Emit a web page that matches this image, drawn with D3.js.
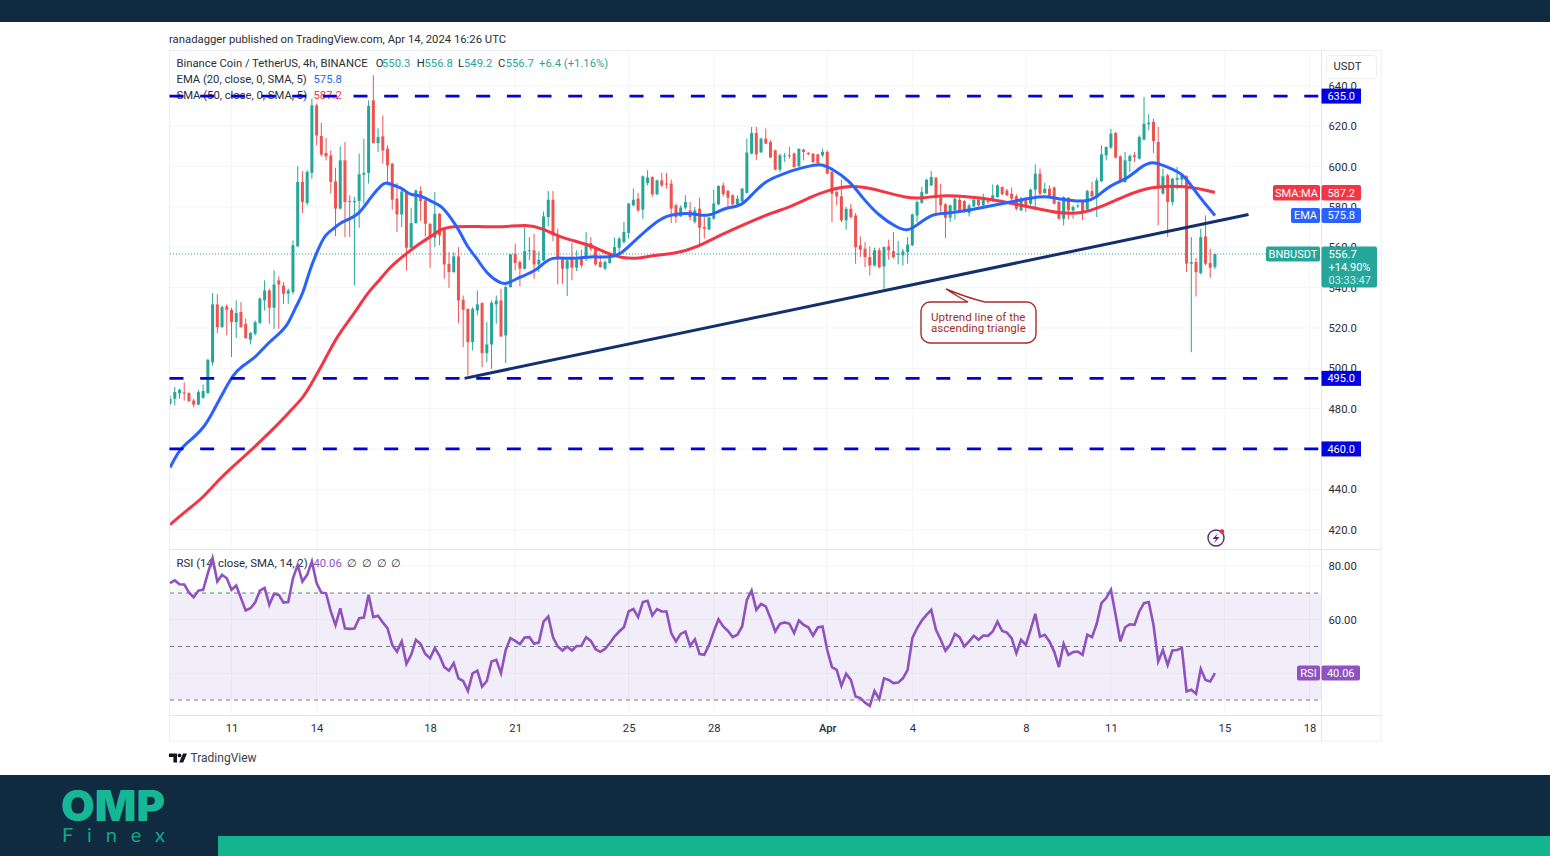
<!DOCTYPE html>
<html>
<head>
<meta charset="utf-8">
<title>BNBUSDT 4h</title>
<script src="https://cdn.jsdelivr.net/npm/d3@7"></script>
<style>
    html, body { margin: 0; padding: 0; background: #fff; }
    svg { display: block; }
    text { font-family: Roboto, "Noto Sans", sans-serif; }
</style>
</head>
<body>
<svg id="chart" width="1550" height="856"></svg>
<script>
// candles, 4h bars from Mar 8 20:00 to Apr 14 16:00
let opens = [
    482.4,484.9,487.7,488,487.7,484,482,485.4,487.7,503,
    531.7,520.4,530.7,529,522.9,527.9,522,514.2,517.1,522.4,
    533.7,538.6,530,543.6,541,537,537.8,560.5,592.4,582,
    596.9,630.4,615.2,606.8,605.6,592.7,579.2,603.1,583,582.5,
    583,596,596.9,632.9,611.7,615,608.9,601.5,584.1,576.3,
    587.4,559.8,572,587.9,583.3,571.7,564.7,576.6,569.2,551.8,
    547.7,555.5,534,529.5,513,528.7,532.3,507.5,511.8,531.7,
    533.6,516.3,540.3,556.8,552.7,549.4,558,558.5,551.5,553.5,
    575,583.6,565.9,553.8,549.4,554.3,549.9,554.3,554.8,562.1,
    559.3,552.7,549.4,552.2,556,559.8,562.6,567.1,580.8,584.1,
    578.7,591.9,594.9,586.3,593.2,591.6,591.6,580.8,575.4,579.7,
    578.3,572.6,579.2,570,568.9,574.2,581.3,590.7,587.9,585.8,
    581.3,582.8,587,606.5,616.7,607.1,613.9,612.2,608.1,598.5,
    605.2,605.6,606.5,600.2,608.4,606.8,606.4,606.1,605.6,607.3,
    597.3,587.4,585.3,573.4,579.1,575.8,561,559.3,555.2,551,
    558.5,550.5,560.4,558.1,556.3,556,557.6,561,575.8,582.1,
    586.6,590.7,594.5,584.6,581.3,574.7,578.3,583.6,583,577,
    580.3,583.6,580.8,583,583,584.9,589.9,588.2,586.6,585.3,
    578.3,583.3,581.6,588.6,596.5,586.9,589.1,589.6,582.5,574.2,
    584.6,578.3,580.4,582.5,578.7,587.9,584.6,592.9,605.6,609.4,
    616.7,605.1,592.4,602.8,605.6,604,613.4,621,622.2,612.2,
    586.6,595.7,582.5,593.5,593.5,595.2,551.9,552.7,547.2,565.4,
    552.2,550.3];
let highs = [
    486.5,490.7,489.8,493,488.2,484.9,489.3,492,504.7,537.3,
    536.7,531.2,531.7,530,533.7,532.8,524.6,518,523.7,535.3,
    543.6,539.5,548.6,545.6,542.8,539.5,563.4,600.2,597.8,598.2,
    633.7,631.3,621.7,614.2,608.1,599.5,610.1,612.2,585.8,585,
    606.4,613.9,632.9,645.3,618.9,625.4,610.6,601.8,591.9,589,
    587.7,579.6,588.6,590.2,584.1,571.7,587.4,577,570,557.6,
    557.6,560.1,536.1,529.5,530.3,538.6,532.8,522.9,533.6,536.1,
    539.4,541.1,556.8,561.8,553.5,570.9,565,566.7,558.1,577.8,
    587.9,587.9,569.2,554.3,554.3,562.1,558.5,558.8,567.6,565.1,
    559.3,556,553.5,556.8,564.8,565.1,572.6,582,589.1,586.9,
    595.7,598.2,595.2,593.6,596.9,596.9,593.6,581.7,580.8,585.8,
    582.5,580,584.6,575,575,588.6,590.7,592.1,588.6,586.3,
    585.8,589.4,613.9,619.7,619.7,614.4,618.9,613.1,608.4,606.5,
    606.8,609.8,607,608.9,608.9,607.3,606.8,606.4,608.9,608.1,
    599,588.2,593.5,580,581.6,577,565.4,562.6,560.4,559.8,
    559.8,560.4,563.8,567.6,563.1,559.3,565.1,576.7,583.3,589.9,
    594,597.8,594.9,591.5,582,581.3,584.9,584.9,583.3,581.6,
    584.1,584.1,586.6,584,591.2,591.2,590.2,589,589.6,586.3,
    585,584.1,589.1,601.1,599,591.9,590.7,590.2,583,585.3,
    584.9,580.8,581.6,582.5,588.6,592.4,594.5,610.6,610.1,618.8,
    617.2,605.6,607.3,606.1,607.3,615.5,634.6,626,623.8,619.7,
    599,596.5,594.5,599.8,596.5,595.7,565.1,554.7,569.2,575.8,
    559.3,556.8];
let lows = [
    481.6,481.6,484.9,484,483.2,480.7,481.6,484.9,487.4,501.4,
    517.5,520.1,516.3,505.6,515.1,520.1,514.7,511.8,516.3,522.1,
    528.7,522.1,519.6,519.6,532,532,536.7,560.1,577,580.8,
    594,610.6,605,603.1,586.6,565.6,578.7,565.1,565.1,541.1,
    569.7,581.6,591.6,611.4,607.3,601.5,590.7,578.6,567.6,570,
    548.5,559.3,571.7,573,565.4,549.9,560.1,561,544.4,539.9,
    547.4,522.4,510.5,496.4,508.8,526.2,500.6,503,499.7,522.1,
    515.5,502.6,540,548.5,540.6,548.9,553.5,544.4,547.7,553.2,
    570.4,563.1,541.6,541.9,535.8,543.6,548.2,549.9,553.2,558.2,
    550.9,549.9,548.6,551.9,555.2,556,561.8,564.3,580.3,577.5,
    574.2,590.7,585,585.8,589.9,589.1,572.1,572.1,575,578.7,
    573.4,571.7,561,564.3,568.4,573.7,580.8,585.3,580.3,580.8,
    580.3,582.5,586.6,606.1,603.2,606.8,611.1,604.5,598.2,597.4,
    602.3,604,599.5,599.8,603.1,605.6,601.8,601.5,604.8,596.2,
    572.5,580.8,572.5,568.7,574.2,551.9,555.2,550.2,546,550.5,
    549.4,539.4,553.8,554.3,551.5,551,551.9,560.6,572.5,581.6,
    586.3,590.4,576.7,576.7,564.6,572.5,573.7,578,577,575.3,
    580,580.3,580.3,581.5,582.5,584.6,585.8,585.3,583.3,578.3,
    578,577.5,580.8,578.3,585.8,586.6,585,581.3,573.7,570.9,
    573.7,574.2,579.6,573.4,578.3,584.6,575,592.4,603.1,608.9,
    604,591.9,591.9,597.3,602.3,603.5,613.1,618,606.8,570.9,
    586.3,565.1,580.8,588.6,589.6,547.7,508,535.6,546.6,551,
    544.9,549.2];
let closes = [
    484.9,488.2,489.3,487.5,483.7,482,488.2,488.7,504.2,531.7,
    520.4,530.4,529,522.9,527.4,520.4,515,517.5,522.9,534.5,
    538.6,530,541.6,541.6,537,538.6,561,592.4,582.5,597.4,
    630.4,615.5,606,605.1,592.4,579.2,603.1,582.5,582.5,583,
    596.2,596.9,630.1,611.7,614.7,608,600.6,583.6,576.3,587.7,
    559.8,572,588.2,582.9,571.7,564.7,576.6,565.9,551.5,547.7,
    555.5,533.6,529,513,529.5,531.7,507.5,511.8,532.5,533.6,
    515.8,540.3,556.5,552.2,549.4,558.1,558.5,551.5,553.8,575.3,
    583.6,565.9,554.3,549.4,553.5,549.9,553.8,551,562.1,559.3,
    551.5,550.2,552.7,556,560.1,564.3,567.6,581.7,583.6,578.3,
    595.2,594.6,586.3,593.2,590.7,591.1,579.2,575,579.7,582.5,
    575,578.3,569.7,569.2,574.7,581.7,590.4,586.3,584.6,581.3,
    584.1,589.1,607,616.7,606.1,613.9,611.4,604.5,598.5,605.6,
    605.5,605.1,599.8,608.9,607.3,606.2,602.3,601.8,607.3,596.5,
    586.6,585.3,573.4,579.1,575,560.1,558.8,555.2,551,558.5,
    550.2,560.1,558.5,555.2,556.8,558,561.4,576.3,582.5,587.4,
    593.5,594.9,584.6,580.8,574.7,580.8,584.1,578.3,578,580.8,
    583.6,580.8,584.9,582.5,585.8,590.7,586.3,585.8,584.1,579.1,
    584.1,580.8,588.6,596.5,586.6,589.1,585.3,581.6,574.2,584.9,
    578.3,580,580.7,577.5,587.9,585.3,593.2,606.1,609.7,616.4,
    604.5,592.4,603.1,605.3,604.8,614.7,621.3,621.8,612.7,589.9,
    595.2,582.5,594,594.4,595.7,551.9,552.7,547.7,565.1,551.9,
    549.9,556.7];

// moving averages, read at bar positions
let emaBars = [0,2,4,7.3,9.4,11.5,13.2,15.3,17.9,20.2,22.7,24.9,26.5,28,29.5,31.2,32.9,34.8,36,40,42.2,45,45.8,47.9,49.2,50.7,53.2,55.5,57.4,59.5,61.2,62.9,64.8,66.9,70.1,71.4,73.9,77.5,79.2,80.7,83.9,86.6,88.7,92.3,95,97.2,101.4,104.6,108.4,110.5,113.7,115.6,117.7,120.9,123.2,126.2,128.9,131.7,134.2,137.4,139.5,143.7,146.5,150.1,153.7,156,157.9,161.3,164.2,169,173.9,177.6,182.4,186,188.1,193.8,196,198.7,202.3,205,207.6,210.8,214.1,217.1,221];
let emaValues = [450.8,459.7,463.7,470.6,480,489,496.4,501.4,504.9,511.3,516.3,521.2,530.2,536.1,548.5,558.5,566.9,569.4,572.4,575.8,584.3,591.7,592.2,590.2,589.2,585.8,585.8,582.3,580.8,574.3,568.4,559.9,555,547,541.6,542.1,545.1,548.5,552.5,555,554.5,554.5,555.5,555,555.9,560.9,569.9,575.8,576.8,576.8,575.3,577.3,579.8,580.3,586.7,593.2,595.7,598.2,599.7,601.6,599.7,593.2,584.3,575.3,569.9,567.9,570.9,576.8,576.8,578.3,580.8,582.3,584.8,585.3,583.8,582.3,584.8,590.7,593.7,599.2,603.1,599.7,597.2,586.7,575.8];
let smaBars = [0,4,7,10.5,14.7,18.9,23.2,25.5,28,29.7,32.7,35.4,39,41.8,44.3,46.4,50,52.8,55.5,57.6,59.7,65.5,70.3,75.4,78.8,82.4,88.7,92.3,95.7,99.3,102,107.1,111.4,116.2,121.9,127.4,131,135.3,139.5,144.3,148.6,155.8,159.2,162.8,168.5,174,179,183.3,188.1,193,196.6,202.3,207.2,215,221];
let smaValues = [422.5,430.4,435.9,445.3,454.2,463.2,473.1,479.1,485,491.5,503.9,516.3,527.2,537.6,543.6,550,557,561.9,565.9,569.4,570.4,570.4,569.9,571.4,569.4,564.9,561.4,557,554.5,554.5,556,557,560,565.9,571.9,577.3,579.8,584.8,588.7,590.7,589.2,584.3,584.3,585.8,585.3,583.8,581.3,579.3,576.8,576.8,579.8,585.8,590.2,590.7,587.2];

// RSI, one value per bar
let rsiValues = [
    73.7,74.7,73.3,73.2,70.2,68.4,70.9,71.2,77.4,83,
    74.3,76.8,75.5,71.2,72.8,68.1,63.5,64.3,66.4,70.9,
    71.9,65.6,69.7,69.3,66.4,66.6,75.5,80.5,74.3,76.8,
    81.8,73.7,70.2,69.9,63.1,58,64.3,56.8,56.6,56.7,
    60.6,60.8,69.3,61,61.5,59,56.8,50.6,48.1,51.9,
    43.5,46.9,52.5,50.9,47.2,45.6,49.4,46.5,42.3,41,
    43.8,38.1,37.1,33.4,40,41,35,37.1,44.4,45,
    40,48.7,53.1,52.1,50.9,53.4,53.5,51,51.5,59.3,
    61.2,53.4,50,48.5,49.9,48.5,50.2,50.2,53.5,52.1,
    49,48,49.1,51.2,53.7,55.6,57.2,63.1,64,61,
    66.6,67.1,61.6,64,63.1,63.1,55,51.9,54.7,55.6,
    50.2,52.7,47.2,46.9,50.6,55.6,60.2,57.5,55.8,53.5,
    54.4,57.5,67.4,70.9,63.7,65.9,65,60.6,55.6,58.5,
    59,58.5,55,59.7,58.1,57.2,54.1,57.1,57.5,48.7,
    42.3,41.3,35.3,39.8,37.5,31.3,30.7,29,27.8,33.4,
    30.4,38.1,37.5,36.3,36.5,38.1,41.3,53.1,56.8,59.7,
    61.8,63.7,56.2,52.5,48.4,50.6,54.7,53.5,50,51.9,
    54,52.5,54.1,54,55.6,59.3,55.8,55.2,53.1,47.5,
    52.5,50.6,56.2,62.2,53.7,54.4,51.9,48.1,42.3,51,
    46.9,47.9,48.1,46.9,54.4,53.5,58.5,66.2,68.1,71.2,
    61.8,51.9,57.2,58.3,58.1,63.1,66.2,66.6,58.1,44.4,
    48.7,43.1,48.5,48.7,49.4,33.2,33.8,32.3,41.6,37.5,
    36.9,40.06];

// axes
let priceTicks = [640,620,600,580,560,540,520,500,480,460,440,420];
let rsiTicks = [80,60,40];
let rsiGuides = [70,50,30];
let dateTicks = [[2,11],[2,14],[2,18],[2,21],[2,25],[2,28],[3,1],[3,4],[3,8],[3,11],[3,15],[3,18]];
let dateLabels = ["11","14","18","21","25","28","Apr","4","8","11","15","18"];

// drawn levels
let levels = [635,495,460];
let trendBars = [62.3,228.1];
let trendPrices = [495,576.3];

let lastPrice = 556.7, lastEma = 575.8, lastSma = 587.2, lastRsi = 40.06;

const GREEN = "#26a69a", RED = "#ef5350", BLUE = "#2962ff", SMA_RED = "#f23645";
const PURPLE = "#8f52bf", LEVEL = "#0000e0", NAVY = "#12306e", INK = "#2a2e39";
const DARK = "#102b40", TEAL = "#12b58e";

let svg = d3.select("#chart");

// pane layout
let left = 170, right = 1321, priceTop = 51, priceBottom = 549, rsiTop = 550, rsiBottom = 715, axisBottom = 741, frameRight = 1381;

let xTime = d3.scaleUtc()
    .domain([Date.UTC(2024, 2, 11), Date.UTC(2024, 3, 18)])
    .range([231.5, 1309.5]);
let firstBar = Date.UTC(2024, 2, 8, 20);
function xBar(i) { return xTime(firstBar + i * 4 * 3600 * 1000); }

let yPrice = d3.scaleLinear().domain([420, 640]).range([529.6, 86]);
let yRsi = d3.scaleLinear().domain([30, 70]).range([700, 593]);

function label(parent, x, y, str, color, size, anchor) {
    return parent.append("text")
        .attr("x", x)
        .attr("y", y)
        .attr("dy", "0.35em")
        .attr("fill", color)
        .attr("font-size", size || 11.25)
        .attr("text-anchor", anchor || "start")
        .text(str);
}

function drawPage() {
    svg.append("rect").attr("width", 1550).attr("height", 22).attr("fill", DARK);
    svg.append("rect").attr("y", 775).attr("width", 1550).attr("height", 81).attr("fill", DARK);
    svg.append("rect").attr("x", 218).attr("y", 836).attr("width", 1332).attr("height", 20).attr("fill", TEAL);

    svg.append("text").attr("x", 61).attr("y", 821)
        .attr("fill", "#16b795").attr("font-size", 42).attr("font-weight", 900)
        .attr("style", "font-family:Inter, Lato, sans-serif")
        .attr("textLength", 104).attr("lengthAdjust", "spacingAndGlyphs")
        .text("OMP");
    svg.append("text").attr("x", 62).attr("y", 842)
        .attr("fill", "#14a589").attr("font-size", 20).attr("font-weight", 400)
        .attr("style", "font-family:Lato, sans-serif")
        .attr("textLength", 103)
        .text("Finex");

    label(svg, 169, 39, "ranadagger published on TradingView.com, Apr 14, 2024 16:26 UTC", INK, 11.3);

    // TradingView mark, bottom left
    let logo = svg.append("g").attr("fill", "#131722");
    logo.append("path").attr("d", "M169 753.5h8v9h-3.6v-5.6h-4.4z");
    logo.append("circle").attr("cx", 179.5).attr("cy", 755.4).attr("r", 1.9);
    logo.append("path").attr("d", "M183 753.5h4l-3.8 9h-4z");
    label(svg, 190.5, 758, "TradingView", "#3a3e4a", 12);
}

function drawFrame() {
    let g = svg.append("g");
    g.append("rect").attr("x", 169.5).attr("y", 50.5)
        .attr("width", frameRight - 169.5).attr("height", axisBottom - 50.5)
        .attr("fill", "#fff").attr("stroke", "#eceef2");

    // grid lines
    let grid = "#f4f5f8";
    g.selectAll("line.gx").data(dateTicks).enter().append("line")
        .attr("x1", d => xTime(Date.UTC(2024, d[0], d[1])))
        .attr("x2", d => xTime(Date.UTC(2024, d[0], d[1])))
        .attr("y1", priceTop).attr("y2", rsiBottom)
        .attr("stroke", grid);
    g.selectAll("line.gy").data(priceTicks).enter().append("line")
        .attr("x1", left).attr("x2", right)
        .attr("y1", d => yPrice(d)).attr("y2", d => yPrice(d))
        .attr("stroke", grid);
    g.selectAll("line.gr").data(rsiTicks).enter().append("line")
        .attr("x1", left).attr("x2", right)
        .attr("y1", d => yRsi(d)).attr("y2", d => yRsi(d))
        .attr("stroke", grid);

    // pane separators
    g.append("line").attr("x1", left).attr("x2", frameRight).attr("y1", 549.5).attr("y2", 549.5).attr("stroke", "#e3e5ea");
    g.append("line").attr("x1", left).attr("x2", frameRight).attr("y1", 715.5).attr("y2", 715.5).attr("stroke", "#e3e5ea");
    g.append("line").attr("x1", right + 0.5).attr("x2", right + 0.5).attr("y1", 50).attr("y2", axisBottom).attr("stroke", "#e3e5ea");

    // USDT button
    g.append("rect").attr("x", 1326.5).attr("y", 55.5).attr("width", 50).attr("height", 23).attr("rx", 3)
        .attr("fill", "#fff").attr("stroke", "#eceef2");
    label(g, 1333.5, 66.5, "USDT", INK, 11.25);
}

function drawAxes() {
    let priceAxis = d3.axisRight(yPrice)
        .tickValues(priceTicks)
        .tickFormat(d3.format(".1f"))
        .tickSize(0)
        .tickPadding(0);
    let rsiAxis = d3.axisRight(yRsi)
        .tickValues(rsiTicks)
        .tickFormat(d3.format(".2f"))
        .tickSize(0)
        .tickPadding(0);
    let dateAxis = d3.axisBottom(xTime)
        .tickValues(dateTicks.map(d => new Date(Date.UTC(2024, d[0], d[1]))))
        .tickFormat((d, i) => dateLabels[i])
        .tickSize(0)
        .tickPadding(0);

    let gp = svg.append("g").attr("transform", "translate(1328.5,0)").call(priceAxis);
    let gr = svg.append("g").attr("transform", "translate(1328.5,0)").call(rsiAxis);
    let gd = svg.append("g").attr("transform", "translate(0,724)").call(dateAxis);

    [gp, gr, gd].forEach(g => {
        g.select(".domain").remove();
        g.selectAll("text").attr("fill", INK).attr("font-size", 11.25)
            .style("font-family", "Roboto, 'Noto Sans', sans-serif");
    });
    gd.selectAll("text").filter((d, i) => dateLabels[i] == "Apr").attr("font-weight", 500);
}

function drawLegend() {
    let g = svg.append("g");
    label(g, 176.5, 63.5, "Binance Coin / TetherUS, 4h, BINANCE", INK);
    let parts = [["O", INK, 375.7], ["550.3", GREEN, 382], ["H", INK, 416.7], ["556.8", GREEN, 424.5],
        ["L", INK, 458], ["549.2", GREEN, 464], ["C", INK, 498], ["556.7", GREEN, 505.7], ["+6.4 (+1.16%)", GREEN, 539]];
    parts.forEach(p => label(g, p[2], 63.5, p[0], p[1]));

    label(g, 176.5, 79.5, "EMA (20, close, 0, SMA, 5)", INK);
    label(g, 313.5, 79.5, "575.8", BLUE);
    label(g, 176.5, 95.5, "SMA (50, close, 0, SMA, 5)", INK);
    label(g, 313.5, 95.5, "587.2", SMA_RED);

    label(g, 176.5, 563.5, "RSI (14, close, SMA, 14, 2)", INK, 11.4);
    label(g, 313.5, 563.5, "40.06", PURPLE);
    [347, 362, 377, 391].forEach(x => label(g, x, 563.5, "∅", INK));
}

function drawCandles() {
    let plot = svg.append("g").attr("clip-path", "url(#priceClip)");

    // last price dotted line sits behind the candles
    plot.append("line")
        .attr("x1", left).attr("x2", 1266)
        .attr("y1", yPrice(lastPrice)).attr("y2", yPrice(lastPrice))
        .attr("stroke", GREEN).attr("stroke-dasharray", "1 2");

    let idx = d3.range(opens.length);
    plot.selectAll("line.wick").data(idx).enter().append("line")
        .attr("x1", i => xBar(i)).attr("x2", i => xBar(i))
        .attr("y1", i => yPrice(highs[i])).attr("y2", i => yPrice(lows[i]))
        .attr("stroke", i => closes[i] >= opens[i] ? GREEN : RED)
        .attr("stroke-width", 1);
    plot.selectAll("rect.body").data(idx).enter().append("rect")
        .attr("x", i => xBar(i) - 1.5)
        .attr("width", 3)
        .attr("y", i => yPrice(Math.max(opens[i], closes[i])))
        .attr("height", i => Math.max(1, Math.abs(yPrice(opens[i]) - yPrice(closes[i]))))
        .attr("fill", i => closes[i] >= opens[i] ? GREEN : RED);

    let line = d3.line().curve(d3.curveBasis);
    plot.append("path")
        .attr("d", line(smaBars.map((b, i) => [xBar(b), yPrice(smaValues[i])])))
        .attr("fill", "none").attr("stroke", SMA_RED).attr("stroke-width", 3);
    plot.append("path")
        .attr("d", line(emaBars.map((b, i) => [xBar(b), yPrice(emaValues[i])])))
        .attr("fill", "none").attr("stroke", BLUE).attr("stroke-width", 3);
}

function drawAnnotations() {
    // horizontal levels
    svg.selectAll("line.level").data(levels).enter().append("line")
        .attr("x1", left - 0.5).attr("x2", right)
        .attr("y1", d => yPrice(d)).attr("y2", d => yPrice(d))
        .attr("stroke", LEVEL).attr("stroke-width", 2.8)
        .attr("stroke-dasharray", "14 16.67");

    // uptrend line
    svg.append("line")
        .attr("x1", xBar(trendBars[0])).attr("y1", yPrice(trendPrices[0]))
        .attr("x2", xBar(trendBars[1])).attr("y2", yPrice(trendPrices[1]))
        .attr("stroke", NAVY).attr("stroke-width", 3);

    // callout under the trend line
    let c = "#a62c2c";
    svg.append("path")
        .attr("d", "M932 302H968Q955 295 946 289Q968 298 985 302H1027a9 9 0 0 1 9 9V334a9 9 0 0 1 -9 9H930a9 9 0 0 1 -9 -9V311a9 9 0 0 1 9 -9z")
        .attr("fill", "#fff").attr("stroke", c).attr("stroke-width", 1.4);
    label(svg, 931, 316.5, "Uptrend line of the", c, 11.6);
    label(svg, 931, 327.5, "ascending triangle", c, 11.6);
}

function drawRsi() {
    let g = svg.append("g");
    let xs = rsiValues.map((v, i) => xBar(i));

    g.append("rect").attr("x", left).attr("width", right - left)
        .attr("y", yRsi(70)).attr("height", yRsi(30) - yRsi(70))
        .attr("fill", "#7e57c2").attr("fill-opacity", 0.1);

    // tint where the line leaves the band
    let defs = svg.append("defs");
    defs.append("clipPath").attr("id", "priceClip").append("rect")
        .attr("x", left).attr("y", priceTop).attr("width", right - left).attr("height", priceBottom - priceTop);
    defs.append("clipPath").attr("id", "aboveClip").append("rect")
        .attr("x", left).attr("y", rsiTop).attr("width", right - left).attr("height", yRsi(70) - rsiTop);
    defs.append("clipPath").attr("id", "belowClip").append("rect")
        .attr("x", left).attr("y", yRsi(30)).attr("width", right - left).attr("height", rsiBottom - yRsi(30));
    let gradUp = defs.append("linearGradient").attr("id", "upTint").attr("x1", 0).attr("x2", 0).attr("y1", 0).attr("y2", 1);
    gradUp.append("stop").attr("offset", "0%").attr("stop-color", "#4caf50").attr("stop-opacity", 0);
    gradUp.append("stop").attr("offset", "100%").attr("stop-color", "#4caf50").attr("stop-opacity", 0.3);
    let gradDown = defs.append("linearGradient").attr("id", "downTint").attr("x1", 0).attr("x2", 0).attr("y1", 0).attr("y2", 1);
    gradDown.append("stop").attr("offset", "0%").attr("stop-color", "#ef5350").attr("stop-opacity", 0.3);
    gradDown.append("stop").attr("offset", "100%").attr("stop-color", "#ef5350").attr("stop-opacity", 0);

    let upArea = d3.area().x((v, i) => xs[i]).y0(yRsi(70)).y1(v => yRsi(v));
    g.append("path").attr("d", upArea(rsiValues)).attr("fill", "url(#upTint)").attr("clip-path", "url(#aboveClip)");
    let downArea = d3.area().x((v, i) => xs[i]).y0(yRsi(30)).y1(v => yRsi(v));
    g.append("path").attr("d", downArea(rsiValues)).attr("fill", "url(#downTint)").attr("clip-path", "url(#belowClip)");

    g.selectAll("line.guide").data(rsiGuides).enter().append("line")
        .attr("x1", left).attr("x2", right)
        .attr("y1", d => yRsi(d)).attr("y2", d => yRsi(d))
        .attr("stroke", "#787b86").attr("stroke-dasharray", "4 4");

    let line = d3.line().x((v, i) => xs[i]).y(v => yRsi(v));
    g.append("path").attr("d", line(rsiValues))
        .attr("fill", "none").attr("stroke", PURPLE).attr("stroke-width", 2.6);
}

function tag(x, y, w, h, color, str, rounded) {
    svg.append("rect").attr("x", x).attr("y", y).attr("width", w).attr("height", h)
        .attr("rx", rounded ? 2 : 0).attr("fill", color);
    label(svg, x + w / 2, y + h / 2, str, "#fff", 11, "middle");
}

function drawTags() {
    levels.forEach(l => tag(right + 0.5, yPrice(l) - 7.5, 39.5, 15, LEVEL, d3.format(".1f")(l)));

    tag(1273, yPrice(lastSma) - 7.5, 47, 15.5, SMA_RED, "SMA:MA", true);
    tag(right + 0.5, yPrice(lastSma) - 7.5, 39.5, 15.5, SMA_RED, d3.format(".1f")(lastSma), true);
    tag(1291, yPrice(lastEma) - 7.5, 29, 15, BLUE, "EMA", true);
    tag(right + 0.5, yPrice(lastEma) - 7.5, 39.5, 15, BLUE, d3.format(".1f")(lastEma), true);

    tag(1266, yPrice(lastPrice) - 7.5, 54, 15, GREEN, "BNBUSDT", true);
    let py = yPrice(lastPrice) - 7.5;
    svg.append("rect").attr("x", right + 0.5).attr("y", py).attr("width", 55.5).attr("height", 41)
        .attr("rx", 2).attr("fill", GREEN);
    label(svg, 1328.5, py + 7.5, d3.format(".1f")(lastPrice), "#fff");
    label(svg, 1328.5, py + 21, "+14.90%", "#fff", 11);
    label(svg, 1328.5, py + 34, "03:33:47", "#c9ece8", 11);

    let ry = yRsi(lastRsi) - 7.5;
    tag(1297, ry, 23, 15, PURPLE, "RSI", true);
    tag(right + 0.5, ry, 38.5, 15, PURPLE, d3.format(".2f")(lastRsi), true);

    // alert icon
    let icon = svg.append("g");
    let ic = "#5c2a78";
    icon.append("circle").attr("cx", 1216).attr("cy", 538).attr("r", 8)
        .attr("fill", "#fff").attr("stroke", ic).attr("stroke-width", 1.4);
    icon.append("path").attr("d", "M1218 533L1212.5 539H1216L1214 543.2L1219.6 537H1216z").attr("fill", ic);
    icon.append("circle").attr("cx", 1222).attr("cy", 531.5).attr("r", 2.2).attr("fill", "#e0304a");
}

function init() {
    drawPage();
    drawFrame();
    drawAxes();
    drawLegend();
    drawRsi();
    drawCandles();
    drawAnnotations();
    drawTags();
}

init();
</script>
</body>
</html>
